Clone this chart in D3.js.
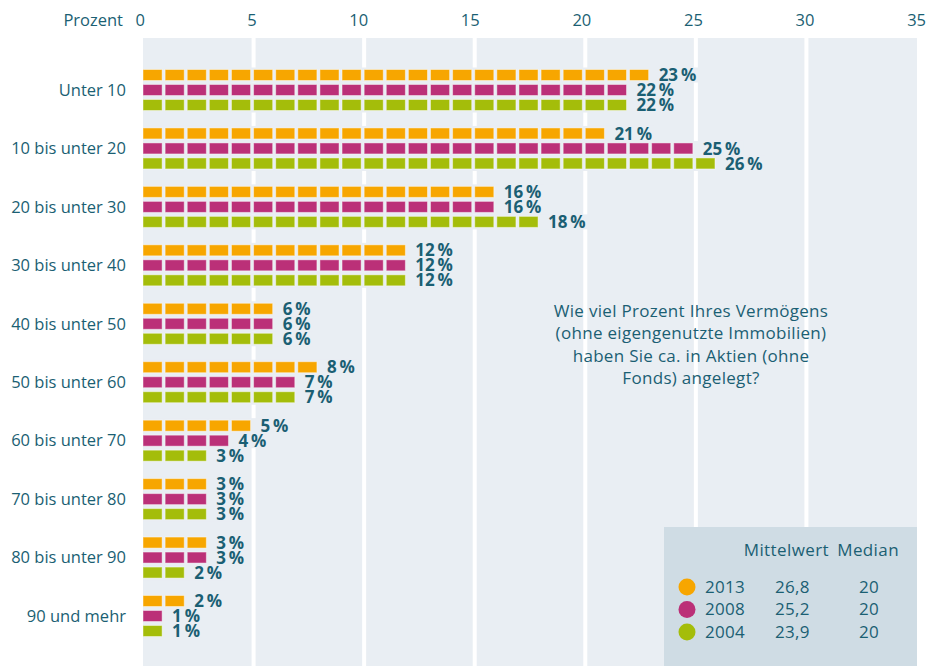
<!DOCTYPE html>
<html><head><meta charset="utf-8">
<script src="https://cdn.jsdelivr.net/npm/d3@7"></script>
<style>
body{margin:0;background:#fff;}
text{font-family:"Open Sans",sans-serif;}
</style></head>
<body><svg id="c" width="930" height="666"></svg>
<script>
const categories = ["Unter 10","10 bis unter 20","20 bis unter 30","30 bis unter 40","40 bis unter 50","50 bis unter 60","60 bis unter 70","70 bis unter 80","80 bis unter 90","90 und mehr"];
const years = ["2013","2008","2004"];
const values2013 = [23,21,16,12,6,8,5,3,3,2];
const values2008 = [22,25,16,12,6,7,4,3,3,1];
const values2004 = [22,26,18,12,6,7,3,3,2,1];
const means = ["26,8","25,2","23,9"];
const medians = ["20","20","20"];
const ticks = [0,5,10,15,20,25,30,35];
const colors = ["#f7a600","#bb3078","#a4bd0a"];
const questionLines = ["Wie viel Prozent Ihres Vermögens","(ohne eigengenutzte Immobilien)","haben Sie ca. in Aktien (ohne","Fonds) angelegt?"];

const series = [values2013, values2008, values2004];
const textCol = "#1b5f73";
const panel = "#e9eef3";
const svg = d3.select("#c");

const x = d3.scaleLinear().domain([0,35]).range([143,917]);
const xl = d3.scaleLinear().domain([0,35]).range([145,926]);
const y = d3.scalePoint().domain(categories).range([90,616]);
const yOff = d3.scalePoint().domain(years).range([-15,15]);

// panel
svg.append("rect").attr("x",x(0)).attr("y",38).attr("width",x(35)-x(0)).attr("height",628).attr("fill",panel);
// gridlines
svg.selectAll(".grid").data(ticks.filter(t=>t>0&&t<35)).join("rect")
  .attr("x",d=>x(d)-2).attr("y",38).attr("width",4).attr("height",628).attr("fill","#fff");

// legend box
svg.append("rect").attr("x",664).attr("y",527).attr("width",917-664).attr("height",139).attr("fill","#cfdce4");

// axis labels
svg.append("text").attr("x",123).attr("y",20).attr("dy","0.35em").attr("text-anchor","end")
  .attr("font-size",16.5).attr("fill",textCol).text("Prozent");
svg.selectAll(".tick").data(ticks).join("text")
  .attr("x",d=>xl(d)).attr("y",20).attr("dy","0.35em").attr("text-anchor","end")
  .attr("font-size",16.5).attr("fill",textCol).text(d=>d);

// category labels
svg.selectAll(".cat").data(categories).join("text")
  .attr("x",126).attr("y",d=>y(d)).attr("dy","0.35em").attr("text-anchor","end")
  .attr("font-size",16.5).attr("fill",textCol).text(d=>d);

// rows
const rows = [];
categories.forEach((c,i)=>{
  years.forEach((yr,k)=>{
    rows.push({cat:c, yr:yr, k:k, v:series[k][i]});
  });
});
const g = svg.append("g");
rows.forEach(r=>{
  const cy = y(r.cat)+yOff(r.yr);
  const lbl = g.append("text").attr("x",x(r.v)+7).attr("y",cy).attr("dy","0.36em")
    .attr("font-size",17).attr("font-weight","bold").attr("fill",textCol)
    .text(r.v+"\u2009%");
  const w = lbl.node().getComputedTextLength();
  g.insert("rect","text").attr("x",x(0)).attr("y",cy-7.5).attr("width",x(r.v)+7+w+3-x(0)).attr("height",15).attr("fill",panel);
  for(let j=0;j<r.v;j++){
    g.insert("rect","text").attr("x",x(j)).attr("y",cy-5.5).attr("width",x(j+1)-x(j)-3).attr("height",11)
      .attr("fill",colors[r.k]).attr("stroke","rgba(255,255,255,0.45)").attr("stroke-width",1);
  }
});

// question text
svg.selectAll(".q").data(questionLines).join("text")
  .attr("x",691).attr("y",(d,i)=>311+i*22.3).attr("dy","0.35em").attr("text-anchor","middle")
  .attr("font-size",17).attr("letter-spacing",0.3).attr("fill",textCol).text(d=>d);

// legend
svg.append("text").attr("x",829).attr("y",550).attr("dy","0.35em").attr("text-anchor","end")
  .attr("font-size",17).attr("letter-spacing",0.4).attr("fill",textCol).text("Mittelwert");
svg.append("text").attr("x",899).attr("y",550).attr("dy","0.35em").attr("text-anchor","end")
  .attr("font-size",17).attr("letter-spacing",0.4).attr("fill",textCol).text("Median");
const ly = d3.scalePoint().domain(years).range([587,632]);
years.forEach((yr,k)=>{
  svg.append("circle").attr("cx",687).attr("cy",ly(yr)).attr("r",8.5).attr("fill",colors[k]);
  svg.append("text").attr("x",705).attr("y",ly(yr)).attr("dy","0.35em").attr("font-size",17).attr("letter-spacing",0.3).attr("fill",textCol).text(yr);
  svg.append("text").attr("x",775).attr("y",ly(yr)).attr("dy","0.35em").attr("font-size",17).attr("letter-spacing",0.3).attr("fill",textCol).text(means[k]);
  svg.append("text").attr("x",879).attr("y",ly(yr)).attr("dy","0.35em").attr("text-anchor","end").attr("font-size",17).attr("letter-spacing",0.3).attr("fill",textCol).text(medians[k]);
});
</script></body></html>
